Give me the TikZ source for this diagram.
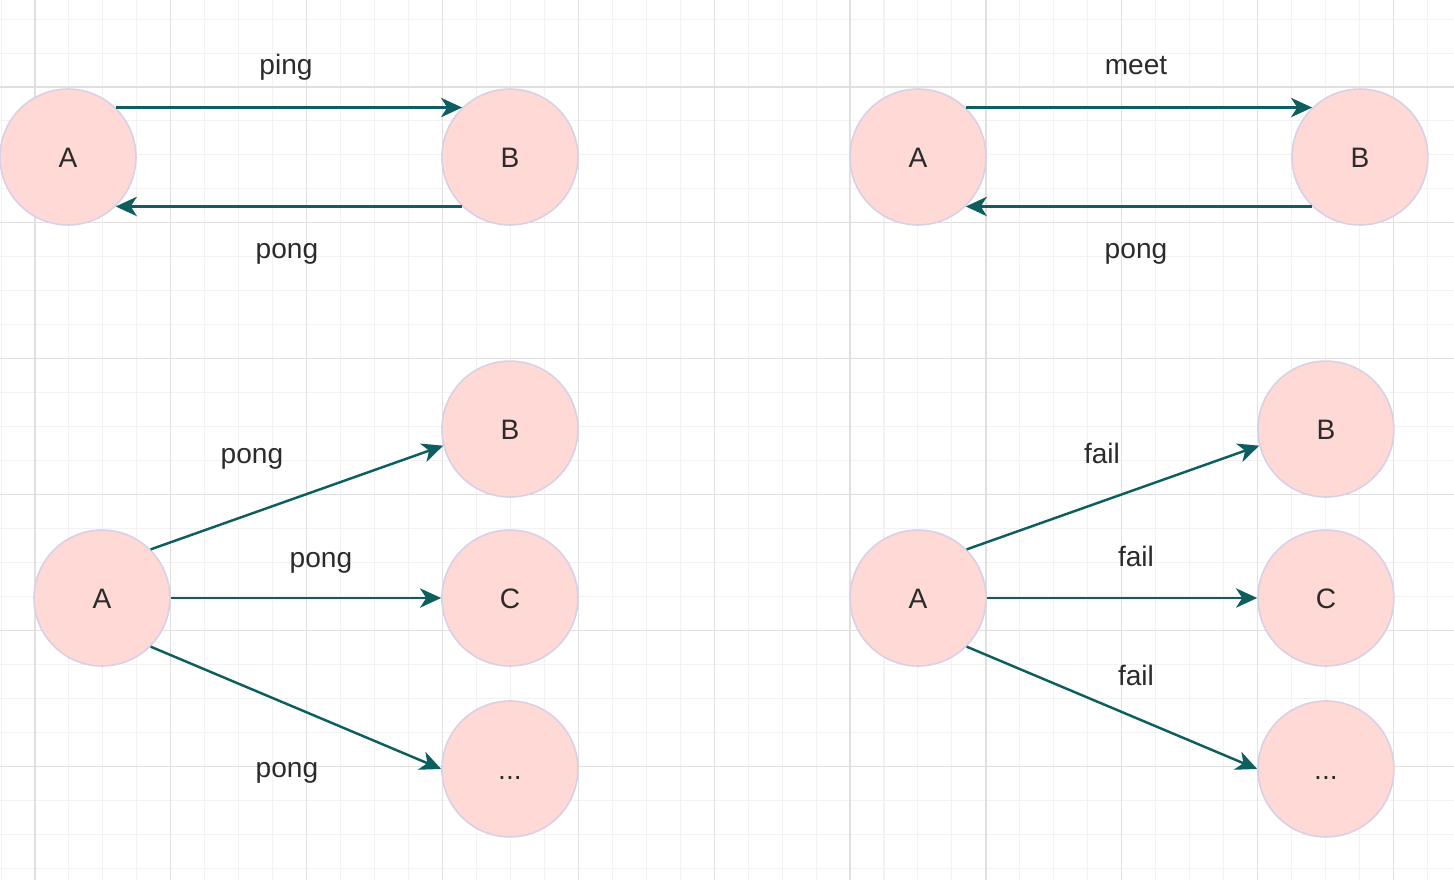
\documentclass[tikz,border=0pt]{standalone}
\usepackage{fontspec}
\setmainfont{Liberation Sans}
\usetikzlibrary{arrows.meta,positioning}
\definecolor{nodefill}{HTML}{FFD9D5}
\definecolor{nodeline}{HTML}{D8D0E6}
\definecolor{link}{HTML}{0D5F5F}
\definecolor{txt}{HTML}{2B2B2B}
\definecolor{gridminor}{HTML}{F2F2F2}
\definecolor{gridmajor}{HTML}{E0E0E0}
\tikzset{
    state/.style = {draw=nodeline, fill=nodefill, circle, line width=0.9pt,
        minimum size=2.72cm, inner sep=0pt, text=txt,
        text height=11.5pt, text depth=0pt},
    arrow/.style = {draw=link, line width=1.4pt,
        -{Stealth[length=12pt,width=11pt,inset=3.5pt]}},
    lbl/.style = {anchor=base, text=txt},
    minorgrid/.style = {draw=gridminor, line width=0.6pt},
    majorgrid/.style = {draw=gridmajor, line width=0.7pt}
}

\begin{document}
\begin{tikzpicture}[x=0.02cm, y=-0.02cm, every node/.style={font=\fontsize{16}{19}\selectfont}]
    \useasboundingbox (0,0) rectangle (1454,880);
    % grid
    \foreach \k in {-1,...,41}
        \draw [minorgrid] ({35+\k*33.96},0) -- ({35+\k*33.96},880);
    \foreach \k in {-2,...,23}
        \draw [minorgrid] (0,{87+\k*33.96}) -- (1454,{87+\k*33.96});
    \foreach \k in {0,...,10}
        \draw [majorgrid] ({35+\k*135.85},0) -- ({35+\k*135.85},880);
    \foreach \k in {0,...,5}
        \draw [majorgrid] (0,{87+\k*135.85}) -- (1454,{87+\k*135.85});

    % ping / pong
    \node [state] (a1) at (68,157) {A};
    \node [state, right of=a1, node distance=8.84cm] (b1) {B};
    \draw [arrow] (a1.46) -- (b1.134);
    \draw [arrow] (b1.226) -- (a1.314);
    \node [lbl] (ping1) at (286,74) {ping};
    \node [lbl] (pong1) at (287,258) {pong};

    % meet / pong
    \node [state] (a2) at (918,157) {A};
    \node [state, right of=a2, node distance=8.84cm] (b2) {B};
    \draw [arrow] (a2.46) -- (b2.134);
    \draw [arrow] (b2.226) -- (a2.314);
    \node [lbl] (meet2) at (1136,74) {meet};
    \node [lbl] (pong2) at (1136,258) {pong};

    % pong to all
    \node [state] (a3) at (102,598) {A};
    \node [state, right of=a3, node distance=8.16cm] (c3) {C};
    \node [state, above of=c3, node distance=3.38cm] (b3) {B};
    \node [state, below of=c3, node distance=3.42cm] (d3) {...};
    \draw [arrow] (a3.45) -- (b3.194);
    \draw [arrow] (a3.east) -- (c3.west);
    \draw [arrow] (a3.-45) -- (d3.west);
    \node [lbl] (pongb3) at (252,463) {pong};
    \node [lbl] (pongc3) at (321,567) {pong};
    \node [lbl] (pongd3) at (287,777) {pong};

    % fail to all
    \node [state] (a4) at (918,598) {A};
    \node [state, right of=a4, node distance=8.16cm] (c4) {C};
    \node [state, above of=c4, node distance=3.38cm] (b4) {B};
    \node [state, below of=c4, node distance=3.42cm] (d4) {...};
    \draw [arrow] (a4.45) -- (b4.194);
    \draw [arrow] (a4.east) -- (c4.west);
    \draw [arrow] (a4.-45) -- (d4.west);
    \node [lbl] (failb4) at (1102,463) {fail};
    \node [lbl] (failc4) at (1136,566) {fail};
    \node [lbl] (faild4) at (1136,685) {fail};
\end{tikzpicture}
\end{document}
